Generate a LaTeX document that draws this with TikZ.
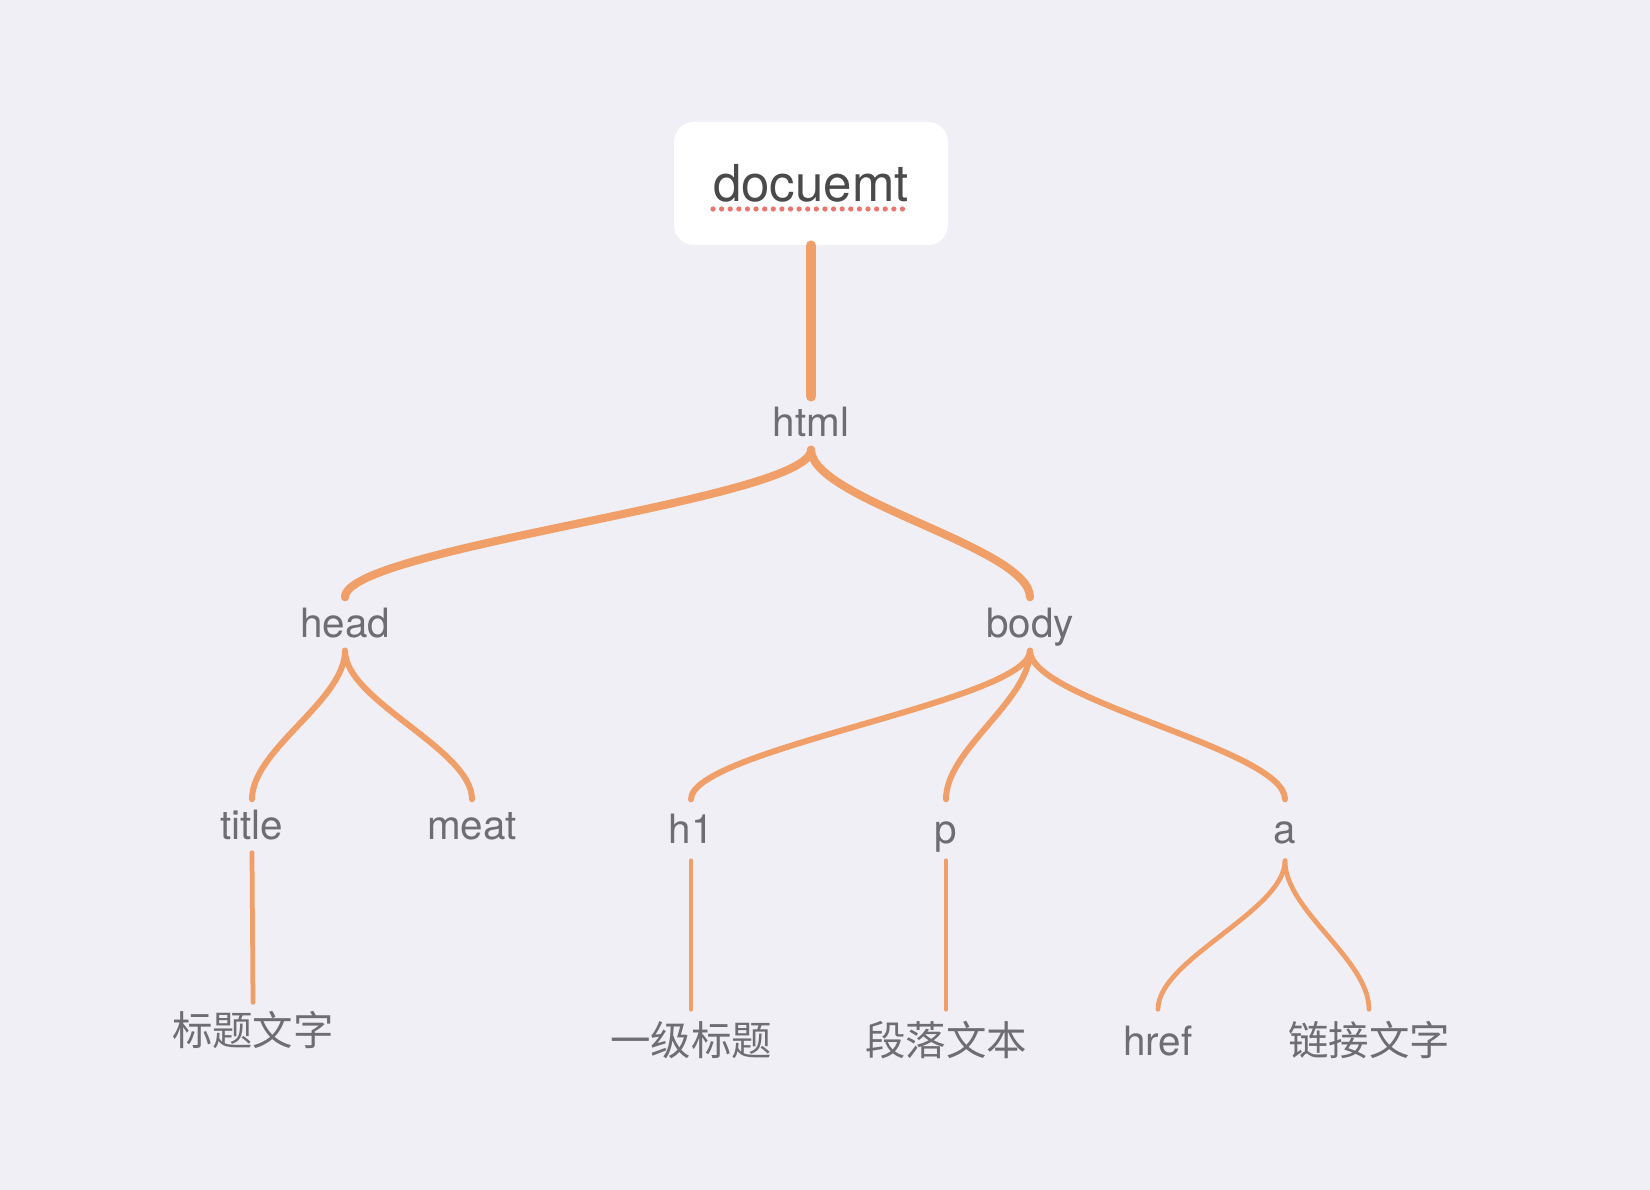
\documentclass[tikz,border=0pt]{standalone}
\usepackage{fontspec}
\setmainfont{TeX Gyre Heros}
\newfontfamily\cjk{Noto Sans CJK SC}
\definecolor{bgpaper}{HTML}{EFEFF5}
\definecolor{linkorange}{HTML}{F09F68}
\definecolor{txtgray}{HTML}{6E6D72}
\definecolor{rootgray}{HTML}{4A4A4A}
\definecolor{spellred}{HTML}{E9776F}
\begin{document}
\begin{tikzpicture}[
    lbl/.style={inner sep=0pt, minimum height=0.52cm, text height=0.34cm, text depth=0.06cm, text=txtgray, font=\fontsize{11.5pt}{13pt}\selectfont},
    zh/.style={lbl, text height=0.38cm, text depth=0.05cm, font=\cjk\fontsize{11.5pt}{13pt}\selectfont},
    rootbox/.style={fill=white, rounded corners=0.2cm, minimum width=2.74cm, minimum height=1.23cm, text=rootgray, font=\fontsize{14.5pt}{16pt}\selectfont},
    link/.style={draw=linkorange, line cap=round},
    trunk/.style={link, line width=3pt},
    branch/.style={link, line width=2.3pt},
    twig/.style={link, line width=1.7pt},
    leafline/.style={link, line width=1.35pt},
]
    % Canvas
    \fill[bgpaper] (0,0) rectangle (16.5,-11.9);
    \useasboundingbox (0,0) rectangle (16.5,-11.9);

    % Root
    \node[rootbox] (doc) at (8.11, -1.835) {docuemt};
    \draw[spellred, line width=1.5pt, line cap=round, dash pattern=on 0pt off 2.45pt] ([xshift=-0.98cm, yshift=-0.255cm]doc.center) -- ([xshift=1.0cm, yshift=-0.255cm]doc.center);

    % Tags
    \node[lbl] (html) at (8.11, -4.23) {html};
    \node[lbl] (head) at (3.45, -6.24) {head};
    \node[lbl] (body) at (10.30, -6.24) {body};
    \node[lbl] (title) at (2.52, -8.26) {title};
    \node[lbl] (meat) at (4.72, -8.26) {meat};
    \node[lbl, minimum height=0.6cm] (h1) at (6.91, -8.30) {h1};
    \node[lbl, minimum height=0.6cm] (p) at (9.46, -8.30) {p};
    \node[lbl, minimum height=0.6cm] (a) at (12.85, -8.30) {a};

    % Contents
    \node[zh] (titletext) at (2.53, -10.29) {标题文字};
    \node[zh, minimum height=0.58cm] (h1text) at (6.91, -10.39) {一级标题};
    \node[zh, minimum height=0.58cm] (ptext) at (9.46, -10.39) {段落文本};
    \node[lbl, minimum height=0.58cm, text height=0.38cm, text depth=0.05cm] (href) at (11.58, -10.39) {href};
    \node[zh, minimum height=0.58cm] (atext) at (13.69, -10.39) {链接文字};

    % Connectors
    \draw[trunk] (doc.south) -- (html.north);
    \draw[branch] (html.south) .. controls +(0,-0.5) and +(0,0.5) .. (head.north);
    \draw[branch] (html.south) .. controls +(0,-0.5) and +(0,0.5) .. (body.north);
    \foreach \kid in {title, meat}
        \draw[twig] (head.south) .. controls +(0,-0.5) and +(0,0.5) .. (\kid.north);
    \foreach \kid in {h1, p, a}
        \draw[twig] (body.south) .. controls +(0,-0.5) and +(0,0.5) .. (\kid.north);
    \draw[leafline] (title.south) -- (titletext.north);
    \draw[leafline] (h1.south) -- (h1text.north);
    \draw[leafline] (p.south) -- (ptext.north);
    \draw[leafline] (a.south) .. controls +(0,-0.5) and +(0,0.5) .. (href.north);
    \draw[leafline] (a.south) .. controls +(0,-0.5) and +(0,0.5) .. (atext.north);
\end{tikzpicture}
\end{document}
